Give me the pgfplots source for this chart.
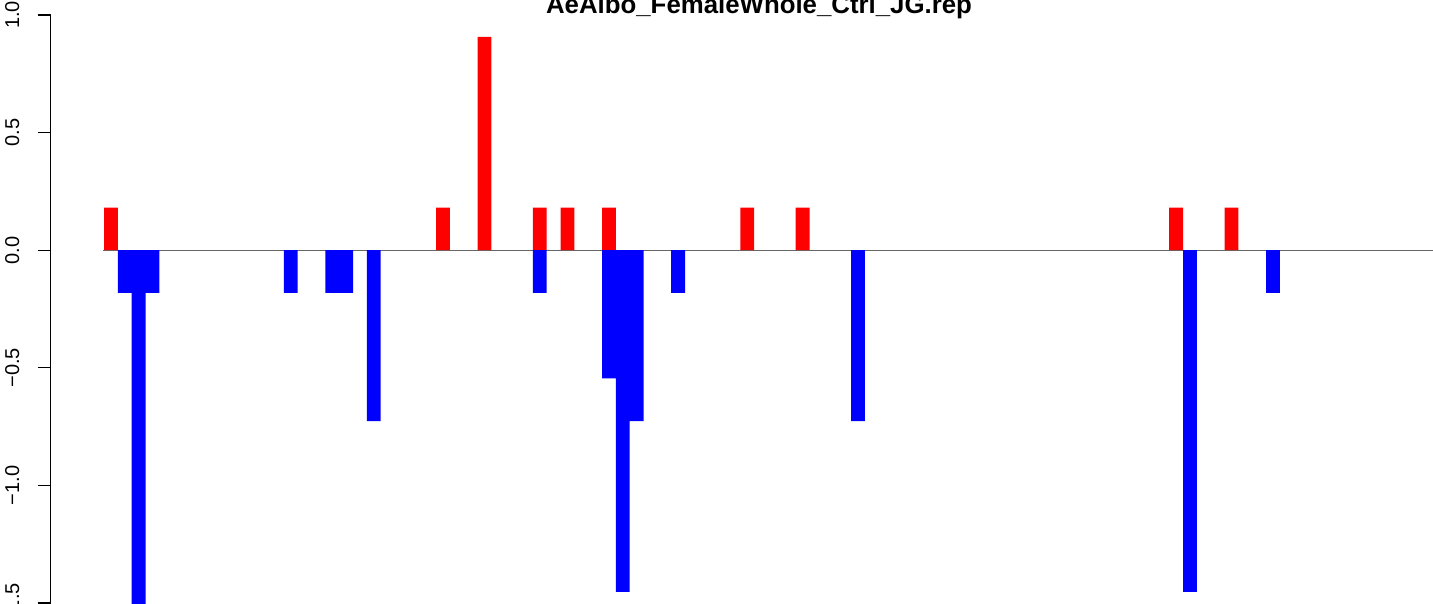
\documentclass[border=0pt]{standalone}
\usepackage{fontspec}
\setmainfont{Liberation Sans}
\usepackage{pgfplots}
\pgfplotsset{compat=1.18}
\begin{document}
\begin{tikzpicture}
\useasboundingbox (0,0) rectangle (716.5pt,302pt);
\clip (0,0) rectangle (716.5pt,302pt);
\begin{axis}[
  at={(25.35pt,0pt)}, anchor=south west,
  scale only axis, width=691.15pt, height=302pt,
  xmin=-3.853, xmax=96.07, ymin=-1.504, ymax=1.064,
  clip=false,
  axis x line=none,
  axis y line*=left,
  axis line style={draw=none},
  ytick={-1.5,-1,-0.5,0,0.5,1},
  yticklabels={−1.5,−1.0,−0.5,0.0,0.5,1.0},
  tick align=outside,
  major tick length=6.5pt,
  tick style={black, line width=0.6pt},
  yticklabel style={xshift=-9pt, font=\fontsize{10}{12}\selectfont, rotate=90, anchor=south, inner sep=0pt},
]
\addplot[color=black!60, line width=0.7pt, forget plot] coordinates {(-0.05,0) (97,0)};
\addplot[ybar, bar width=1, bar shift=0, fill=red, draw=none] coordinates {
(0.5,0.1815) (24.5,0.1815) (27.5,0.907) (31.5,0.1815) (33.5,0.1815)
(36.5,0.1815) (46.5,0.1815) (50.5,0.1815) (77.5,0.1815) (81.5,0.1815)};
\addplot[ybar, bar width=1, bar shift=0, fill=blue, draw=none] coordinates {
(1.5,-0.1815) (2.5,-1.633) (3.5,-0.1815) (13.5,-0.1815) (16.5,-0.1815)
(17.5,-0.1815) (19.5,-0.726) (31.5,-0.1815) (36.5,-0.545) (37.5,-1.452)
(38.5,-0.726) (41.5,-0.1815) (54.5,-0.726) (78.5,-1.452) (84.5,-0.1815)};
\draw[line width=0.6pt] (axis cs:-3.853,-1.5) -- (axis cs:-3.853,1);
\end{axis}
\node[anchor=base, inner sep=0pt, font=\fontsize{12.9}{15}\selectfont\bfseries] at (379.5pt,295pt) {AeAlbo\_FemaleWhole\_Ctrl\_JG.rep};
\end{tikzpicture}
\end{document}
